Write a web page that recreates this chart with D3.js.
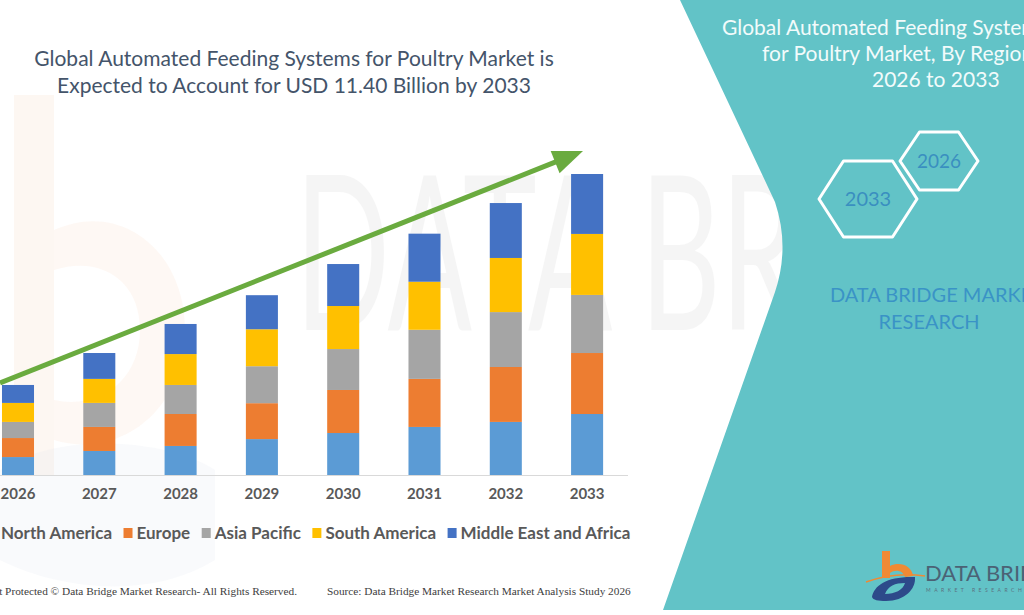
<!DOCTYPE html>
<html>
<head>
<meta charset="utf-8">
<script src="https://cdn.jsdelivr.net/npm/d3@7"></script>
<style>
  html, body { margin: 0; padding: 0; background: #ffffff; }
  svg { display: block; }
</style>
</head>
<body>
<svg id="chart" width="1024" height="615"></svg>
<script>
// ---------------- DATA ----------------
const years = ["2026", "2027", "2028", "2029", "2030", "2031", "2032", "2033"];
const regions = ["North America", "Europe", "Asia Pacific", "South America", "Middle East and Africa"];
const northAmerica = [0.68, 0.91, 1.10, 1.36, 1.59, 1.82, 2.01, 2.31];
const europe       = [0.72, 0.91, 1.21, 1.36, 1.63, 1.82, 2.08, 2.31];
const asiaPacific  = [0.61, 0.91, 1.10, 1.40, 1.55, 1.86, 2.08, 2.20];
const southAmerica = [0.72, 0.91, 1.17, 1.40, 1.63, 1.82, 2.05, 2.31];
const middleEastAfrica = [0.68, 0.98, 1.14, 1.29, 1.59, 1.82, 2.08, 2.27];
const titleLines = ["Global Automated Feeding Systems for Poultry Market is", "Expected to Account for USD 11.40 Billion by 2033"];
const panelTitleLines = ["Global Automated Feeding Systems", "for Poultry Market, By Region", "2026 to 2033"];
const hexYears = ["2026", "2033"];

// -------------- SETUP -----------------
const colors = ["#5B9BD5", "#ED7D31", "#A5A5A5", "#FFC000", "#4472C4"];
const seriesArrays = [northAmerica, europe, asiaPacific, southAmerica, middleEastAfrica];
const table = years.map((y, i) => {
  const row = { year: y };
  regions.forEach((r, k) => row[r] = seriesArrays[k][i]);
  return row;
});
const stacked = d3.stack().keys(regions)(table);

const svg = d3.select("#chart");
const font = "Lato, 'Open Sans', sans-serif";

// ---------- background watermark ----------
const wm = svg.append("g").attr("class", "watermark");
wm.append("rect").attr("x", 14).attr("y", 95).attr("width", 40).attr("height", 380)
  .attr("fill", "#f7d9c4").attr("opacity", 0.22);
wm.append("path")
  .attr("d", "M54,230 C120,200 185,250 185,330 C185,410 120,460 54,440 L54,400 C100,410 140,380 140,330 C140,280 100,255 54,270 Z")
  .attr("fill", "#f7d9c4").attr("opacity", 0.18);
wm.append("path")
  .attr("d", "M0,470 C60,430 170,440 215,470 L215,560 C150,600 60,590 0,560 Z")
  .attr("fill", "#dfe6ef").attr("opacity", 0.2);
wm.append("text").attr("transform", "translate(295,330) scale(0.58,1)")
  .attr("font-family", font).attr("font-size", 215)
  .attr("fill", "#000").attr("opacity", 0.035).text("DATA BR");

// ---------- right teal panel ----------
svg.append("path")
  .attr("d", "M680,0 L1024,0 L1024,610 L663,610 L775,292 Q790,247 775,202 Z")
  .attr("fill", "#62c3c7");

// panel title
const pt = svg.append("g").attr("font-family", font).attr("font-size", 21).attr("fill", "#f2fbfb");
const ptX = [722, 762, 872];
const ptY = [35, 61, 87];
panelTitleLines.forEach((t, i) => pt.append("text").attr("x", ptX[i]).attr("y", ptY[i]).text(t));

// hexagons
function hexPath(cx, cy, r, h) {
  return d3.line()([[cx - r, cy], [cx - r / 2, cy - h], [cx + r / 2, cy - h], [cx + r, cy], [cx + r / 2, cy + h], [cx - r / 2, cy + h]]) + "Z";
}
const hexSpec = [{ cx: 939, cy: 161, r: 39, h: 29, fs: 19 }, { cx: 868, cy: 199, r: 49, h: 38, fs: 20 }];
hexYears.forEach((yv, i) => {
  const s = hexSpec[i];
  svg.append("path").attr("d", hexPath(s.cx, s.cy, s.r, s.h))
    .attr("fill", "none").attr("stroke", "#ffffff").attr("stroke-width", 3).attr("stroke-linejoin", "round");
  svg.append("text").attr("x", s.cx).attr("y", s.cy).attr("dy", "0.35em")
    .attr("text-anchor", "middle").attr("font-family", font).attr("font-size", s.fs)
    .attr("fill", "#3a8fc0").text(yv);
});
svg.append("text").attr("x", 937).attr("y", 302).attr("text-anchor", "middle")
  .attr("font-family", font).attr("font-size", 20).attr("fill", "#3a93c6").text("DATA BRIDGE MARKET");
svg.append("text").attr("x", 929).attr("y", 329).attr("text-anchor", "middle")
  .attr("font-family", font).attr("font-size", 20).attr("fill", "#3a93c6").text("RESEARCH");

// logo bottom right
const lg = svg.append("g");
lg.append("path").attr("d", "M882,551 L890,551 L890,566 C900,561 912,566 913,576 L905,577 C903,570 895,569 890,573 L890,578 L882,578 Z")
  .attr("fill", "#f08a34");
lg.append("path").attr("d", "M872,597 C874,585 888,576 915,577 C916,589 905,601 886,601 C878,601 873,600 872,597 Z M885,594 C895,594 903,590 905,583 C895,583 888,586 885,594 Z")
  .attr("fill", "#2d4a8a").attr("fill-rule", "evenodd");
lg.append("path").attr("d", "M866,582 C885,575 905,573 925,576").attr("fill", "none").attr("stroke", "#f08a34").attr("stroke-width", 1.5);
lg.append("text").attr("x", 925).attr("y", 581).attr("font-family", font)
  .attr("font-size", 22).attr("fill", "#4b6275").text("DATA BRIDGE");
lg.append("text").attr("x", 926).attr("y", 592).attr("font-family", font)
  .attr("font-size", 5).attr("letter-spacing", 3.5).attr("fill", "#5b7080").text("MARKET RESEARCH");

// ---------- chart ----------
const x = d3.scaleBand().domain(years).range([-22.65, 627.75]).paddingInner(0.606).paddingOuter(0.303);
const y = d3.scaleLinear().domain([0, 11.4]).range([475, 174]);

const g = svg.append("g");
g.selectAll("g.series").data(stacked).join("g")
  .attr("class", "series")
  .attr("fill", (d, i) => colors[i])
  .selectAll("rect").data(d => d).join("rect")
  .attr("x", d => x(d.data.year))
  .attr("width", x.bandwidth())
  .attr("y", d => y(d[1]))
  .attr("height", d => y(d[0]) - y(d[1]));

// axis
const ax = g.append("g").attr("transform", `translate(0,${y(0)})`)
  .call(d3.axisBottom(x).tickSize(0).tickPadding(13));
ax.select(".domain").attr("d", "M0,0.5H628").attr("stroke", "#d9d9d9").attr("stroke-width", 1.2);
ax.selectAll("text").attr("font-family", font).attr("font-size", 15).attr("font-weight", 700).attr("fill", "#595959");

// growth arrow
const a0 = [0, 383], a1 = [583, 151];
const dx = a1[0] - a0[0], dy = a1[1] - a0[1], len = Math.hypot(dx, dy);
const ux = dx / len, uy = dy / len, px = -uy, py = ux;
const headL = 30, headW = 12;
const bx = a1[0] - ux * headL, by = a1[1] - uy * headL;
svg.append("line").attr("x1", a0[0]).attr("y1", a0[1]).attr("x2", bx + ux * 2).attr("y2", by + uy * 2)
  .attr("stroke", "#6aab3f").attr("stroke-width", 5);
svg.append("path")
  .attr("d", d3.line()([a1, [bx + px * headW, by + py * headW], [bx - px * headW, by - py * headW]]) + "Z")
  .attr("fill", "#6aab3f");

// title
const tt = svg.append("g").attr("font-family", font).attr("font-size", 21).attr("fill", "#44546a")
  .attr("text-anchor", "middle");
titleLines.forEach((t, i) => tt.append("text").attr("x", 294).attr("y", 66 + i * 27).text(t));

// legend
const leg = svg.append("g").attr("font-family", font).attr("font-size", 17).attr("font-weight", 700).attr("fill", "#595959");
let lx = -12;
regions.forEach((r, i) => {
  leg.append("rect").attr("x", lx).attr("y", 528).attr("width", 9).attr("height", 10).attr("fill", colors[i]);
  const t = leg.append("text").attr("x", lx + 13).attr("y", 539).text(r);
  lx += 13 + t.node().getComputedTextLength() + 11.5;
});

// footer
const ft = svg.append("g").attr("font-family", "'Liberation Serif', 'Times New Roman', serif").attr("font-size", 11.3).attr("fill", "#404040");
ft.append("text").attr("x", 297).attr("y", 595).attr("text-anchor", "end").text("Copyright Protected © Data Bridge Market Research- All Rights Reserved.");
ft.append("text").attr("x", 327).attr("y", 595).text("Source: Data Bridge Market Research  Market Analysis Study 2026");
</script>
</body>
</html>
